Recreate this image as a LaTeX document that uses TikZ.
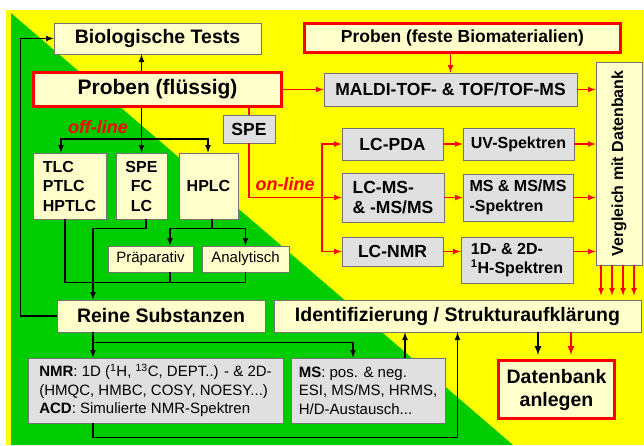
\documentclass[tikz,border=0pt]{standalone}
\usepackage{fontspec}
\setmainfont{Liberation Sans}
\usetikzlibrary{arrows}

\definecolor{hellgelb}{HTML}{FFFFCC}
\definecolor{hellgrau}{HTML}{E0E0E0}
\definecolor{gruen}{HTML}{00CC00}
\definecolor{gelb}{HTML}{FFFF00}
\definecolor{rot}{HTML}{FF0000}

\tikzset{
  box/.style={draw=black!55,line width=0.8pt,fill=hellgelb,inner sep=0pt},
  gbox/.style={box,fill=hellgrau},
  rbox/.style={box,draw=rot,line width=3pt},
  con/.style={line width=1.6pt},
  rcon/.style={con,draw=rot},
  modus/.style={text=rot,font=\bfseries\itshape\fontsize{18}{20}\selectfont},
  fa/.style={font=\bfseries\fontsize{21}{24}\selectfont},
  fb/.style={font=\bfseries\fontsize{19.5}{23}\selectfont},
  fc/.style={font=\bfseries\fontsize{17.5}{20}\selectfont},
  fd/.style={font=\bfseries\fontsize{16}{19.5}\selectfont},
  fe/.style={font=\fontsize{15}{18.5}\selectfont},
}

\begin{document}
\begin{tikzpicture}[x=1pt,y=-1pt,>=latex]
\useasboundingbox (0,0) rectangle (644,445);
\fill[gelb] (6,10) rectangle (644,445);
\fill[gruen] (11,13) -- (11,445) -- (513,445) -- cycle;

% obere Reihe
\node[box,fb,minimum width=207,minimum height=31] (bio) at (157.5,38.5) {Biologische Tests};
\node[rbox,fa,minimum width=248,minimum height=34] (probenfl) at (157.5,89.5) {Proben (flüssig)};
\node[rbox,fc,minimum width=316,minimum height=29] (probenfest) at (462.5,38) {Proben (feste Biomaterialien)};
\node[gbox,fc,minimum width=253,minimum height=33] (maldi) at (450.5,89.5) {MALDI-TOF- \& TOF/TOF-MS};
\node[box,fd,minimum width=46,minimum height=203] (vergleich) at (619,163.5) {\rotatebox{90}{Vergleich mit Datenbank}};

% on-line
\node[gbox,fc,minimum width=52,minimum height=28] (spe) at (249,129) {SPE};
\node[gbox,fc,minimum width=101,minimum height=32] (lcpda) at (392.5,144) {LC-PDA};
\node[gbox,fc,align=left,minimum width=102,minimum height=49] (lcms) at (393,197.5) {LC-MS-\\\& -MS/MS};
\node[gbox,fc,minimum width=101,minimum height=29] (lcnmr) at (392.5,251.5) {LC-NMR};
\node[gbox,fd,minimum width=111,minimum height=32] (uv) at (518.5,144) {UV-Spektren};
\node[gbox,fd,align=left,minimum width=110,minimum height=47] (msspek) at (518,197.5) {MS \& MS/MS\\-Spektren};
\node[gbox,fd,align=left,minimum width=112,minimum height=46] (hspek) at (517,260) {1D- \& 2D-\\\textsuperscript{1}H-Spektren};

% off-line
\node[box,fd,align=left,minimum width=73,minimum height=66] (tlc) at (69.5,186) {TLC\\PTLC\\HPTLC};
\node[box,fd,align=center,minimum width=51,minimum height=66] (spefc) at (141.5,186) {SPE\\FC\\LC};
\node[box,fd,minimum width=59,minimum height=66] (hplc) at (208.5,186) {HPLC};
\node[box,fe,minimum width=85,minimum height=26] (prap) at (150.5,259) {Präparativ};
\node[box,fe,minimum width=87,minimum height=26] (anal) at (245.5,259) {Analytisch};

% untere Reihe
\node[box,fb,minimum width=208,minimum height=32] (reine) at (161,316) {Reine Substanzen};
\node[box,fb,minimum width=367,minimum height=32] (ident) at (457.5,316) {Identifizierung / Strukturaufklärung};
\node[gbox,fe,align=left,minimum width=255,minimum height=65] (nmr) at (155.5,390.5)
  {\textbf{NMR}: 1D (\textsuperscript{1}H, \textsuperscript{13}C, DEPT..) - \& 2D-\\(HMQC, HMBC, COSY, NOESY...)\\\textbf{ACD}: Simulierte NMR-Spektren};
\node[gbox,fe,align=left,minimum width=154,minimum height=65] (ms) at (368,390.5)
  {\textbf{MS}: pos. \& neg.\\ESI, MS/MS, HRMS,\\H/D-Austausch...};
\node[rbox,fb,align=center,minimum width=116,minimum height=58] (dbank) at (556.5,389.5) {Datenbank\\anlegen};

\node[modus] (offline) at (98,127) {off-line};
\node[modus] (online) at (285,184) {on-line};

% schwarze Verbindungen
\draw[con,->] (probenfl.north -| spefc.north) -- (bio.south -| spefc.north);
\draw[con,->] (reine.west) -- ++(-36,0) |- (bio.west);
\draw[con,->] (probenfl.south -| spefc.north) -- (spefc.north);
\draw[con,->] (spefc.north |- 0,139) -| ([xshift=-8.5pt]tlc.north);
\draw[con,->] (spefc.north |- 0,139) -| ([xshift=-0.5pt]hplc.north);
\draw[con] ([xshift=-4.5pt]tlc.south) -- ++(0,63) -| (anal.south);
\draw[con] ([xshift=19.5pt]prap.south) -- ++(0,10);
\draw[con,->] ([xshift=4.5pt]spefc.south) -- ++(0,9) -| ([xshift=-68pt]reine.north);
\draw[con] ([xshift=3.5pt]hplc.south) -- ++(0,9) coordinate (hp);
\draw[con,->] (hp) -| ([xshift=19.5pt]prap.north);
\draw[con,->] (hp) -| (anal.north);
\draw[con,->] ([xshift=-68pt]reine.south) -- ([xshift=-68pt]reine.south |- nmr.north);
\draw[con,->] ([xshift=-68pt]reine.south) ++(0,10) -| ([xshift=-15pt]ms.north);
\draw[con,->] ([xshift=-62.5pt]nmr.south) -- ++(0,14) -| (ident.south);
\draw[con,->] ([xshift=37pt]ms.north) -- ([xshift=37pt]ms.north |- ident.south);
\draw[con,->,line width=2pt,shorten >=4pt] ([xshift=-18.5pt]dbank.north |- ident.south) -- ([xshift=-18.5pt]dbank.north);

% rote Verbindungen
\draw[rcon,->] (probenfl.east) -- (maldi.west);
\draw[rcon] (probenfl.south -| spe.north) -- (spe.north);
\draw[rcon,->] (spe.south) |- (lcms.west);
\coordinate (onl) at (322,197.5);
\draw[rcon,->] (onl) |- (lcpda.west);
\draw[rcon,->] (onl) |- (lcnmr.west);
\draw[rcon,->] (lcpda.east) -- (uv.west);
\draw[rcon,->] (lcms.east) -- (lcms.east -| msspek.west);
\draw[rcon,->] (lcnmr.east) -- (lcnmr.east -| hspek.west);
\draw[rcon,->] (probenfest.south -| maldi.north) -- (maldi.north);
\draw[rcon,->] (maldi.east) -- (maldi.east -| vergleich.west);
\draw[rcon,->] (uv.east) -- (uv.east -| vergleich.west);
\draw[rcon,->] (msspek.east) -- (msspek.east -| vergleich.west);
\draw[rcon,->] (lcnmr -| hspek.east) -- (lcnmr -| vergleich.west);
\foreach \dx in {-18,-7,4,15}
  \draw[rcon,->,shorten >=4pt] ([xshift=\dx pt]vergleich.south) -- ([xshift=\dx pt]vergleich.south |- ident.north);
\draw[rcon,->,line width=2pt,shorten >=4pt] ([xshift=14.5pt]dbank.north |- ident.south) -- ([xshift=14.5pt]dbank.north);
\end{tikzpicture}
\end{document}
